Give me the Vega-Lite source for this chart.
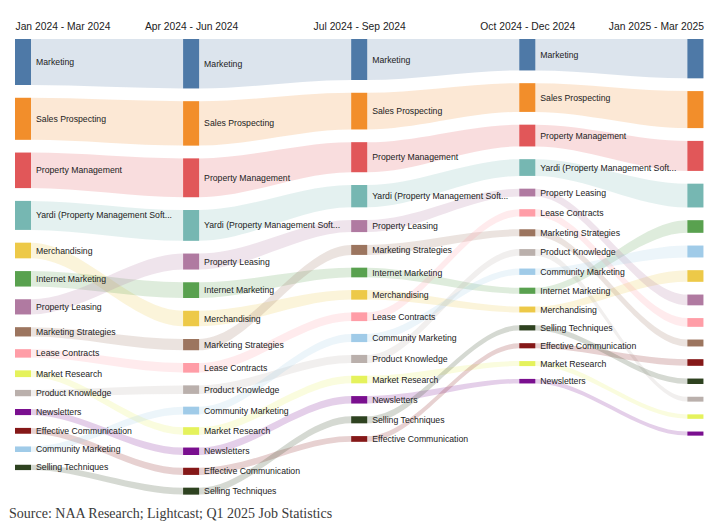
{
  "$schema": "https://vega.github.io/schema/vega-lite/v6.json",
  "width": 720,
  "height": 465,
  "autosize": {"type": "none"},
  "padding": {"top": 35, "bottom": 23, "left": 0, "right": 0},
  "background": "white",
  "title": {
    "text": "Source: NAA Research; Lightcast; Q1 2025 Job Statistics",
    "orient": "bottom",
    "anchor": "start",
    "frame": "group",
    "baseline": "alphabetic",
    "offset": 17.5,
    "dx": 9,
    "font": "Liberation Serif",
    "fontSize": 14,
    "fontWeight": "normal",
    "color": "#3a3a3a"
  },
  "config": {
    "view": {"stroke": null},
    "axisX": {
      "orient": "top",
      "values": [0, 1, 2, 3, 4],
      "labelExpr": "['Jan 2024 - Mar 2024','Apr 2024 - Jun 2024','Jul 2024 - Sep 2024','Oct 2024 - Dec 2024','Jan 2025 - Mar 2025'][datum.value]",
      "title": null,
      "domain": false,
      "ticks": false,
      "tickSize": 0,
      "grid": false,
      "labelPadding": 6,
      "labelBaseline": "alphabetic",
      "labelFlush": 30,
      "labelFlushOffset": 8,
      "labelOverlap": false,
      "labelFont": "Liberation Sans",
      "labelFontSize": 10.3,
      "labelColor": "#222222"
    }
  },
  "data": {
    "values": [
      {"q": 0, "quarter": "Jan 2024 - Mar 2024", "skill": "Marketing", "value": 46},
      {"q": 0, "quarter": "Jan 2024 - Mar 2024", "skill": "Sales Prospecting", "value": 42},
      {"q": 0, "quarter": "Jan 2024 - Mar 2024", "skill": "Property Management", "value": 35.5},
      {"q": 0, "quarter": "Jan 2024 - Mar 2024", "skill": "Yardi (Property Management Software)", "value": 29},
      {"q": 0, "quarter": "Jan 2024 - Mar 2024", "skill": "Merchandising", "value": 15.6},
      {"q": 0, "quarter": "Jan 2024 - Mar 2024", "skill": "Internet Marketing", "value": 15.4},
      {"q": 0, "quarter": "Jan 2024 - Mar 2024", "skill": "Property Leasing", "value": 15.1},
      {"q": 0, "quarter": "Jan 2024 - Mar 2024", "skill": "Marketing Strategies", "value": 9.2},
      {"q": 0, "quarter": "Jan 2024 - Mar 2024", "skill": "Lease Contracts", "value": 8.4},
      {"q": 0, "quarter": "Jan 2024 - Mar 2024", "skill": "Market Research", "value": 6.7},
      {"q": 0, "quarter": "Jan 2024 - Mar 2024", "skill": "Product Knowledge", "value": 6.3},
      {"q": 0, "quarter": "Jan 2024 - Mar 2024", "skill": "Newsletters", "value": 6.1},
      {"q": 0, "quarter": "Jan 2024 - Mar 2024", "skill": "Effective Communication", "value": 5.8},
      {"q": 0, "quarter": "Jan 2024 - Mar 2024", "skill": "Community Marketing", "value": 5.5},
      {"q": 0, "quarter": "Jan 2024 - Mar 2024", "skill": "Selling Techniques", "value": 5.3},

      {"q": 1, "quarter": "Apr 2024 - Jun 2024", "skill": "Marketing", "value": 49.4},
      {"q": 1, "quarter": "Apr 2024 - Jun 2024", "skill": "Sales Prospecting", "value": 44.4},
      {"q": 1, "quarter": "Apr 2024 - Jun 2024", "skill": "Property Management", "value": 38.8},
      {"q": 1, "quarter": "Apr 2024 - Jun 2024", "skill": "Yardi (Property Management Software)", "value": 30.8},
      {"q": 1, "quarter": "Apr 2024 - Jun 2024", "skill": "Property Leasing", "value": 15.9},
      {"q": 1, "quarter": "Apr 2024 - Jun 2024", "skill": "Internet Marketing", "value": 15.7},
      {"q": 1, "quarter": "Apr 2024 - Jun 2024", "skill": "Merchandising", "value": 15.4},
      {"q": 1, "quarter": "Apr 2024 - Jun 2024", "skill": "Marketing Strategies", "value": 11.2},
      {"q": 1, "quarter": "Apr 2024 - Jun 2024", "skill": "Lease Contracts", "value": 9.6},
      {"q": 1, "quarter": "Apr 2024 - Jun 2024", "skill": "Product Knowledge", "value": 8.5},
      {"q": 1, "quarter": "Apr 2024 - Jun 2024", "skill": "Community Marketing", "value": 7.7},
      {"q": 1, "quarter": "Apr 2024 - Jun 2024", "skill": "Market Research", "value": 7.6},
      {"q": 1, "quarter": "Apr 2024 - Jun 2024", "skill": "Newsletters", "value": 7.4},
      {"q": 1, "quarter": "Apr 2024 - Jun 2024", "skill": "Effective Communication", "value": 7.1},
      {"q": 1, "quarter": "Apr 2024 - Jun 2024", "skill": "Selling Techniques", "value": 6.9},

      {"q": 2, "quarter": "Jul 2024 - Sep 2024", "skill": "Marketing", "value": 41},
      {"q": 2, "quarter": "Jul 2024 - Sep 2024", "skill": "Sales Prospecting", "value": 36.6},
      {"q": 2, "quarter": "Jul 2024 - Sep 2024", "skill": "Property Management", "value": 30},
      {"q": 2, "quarter": "Jul 2024 - Sep 2024", "skill": "Yardi (Property Management Software)", "value": 22.3},
      {"q": 2, "quarter": "Jul 2024 - Sep 2024", "skill": "Property Leasing", "value": 12},
      {"q": 2, "quarter": "Jul 2024 - Sep 2024", "skill": "Marketing Strategies", "value": 10},
      {"q": 2, "quarter": "Jul 2024 - Sep 2024", "skill": "Internet Marketing", "value": 9.6},
      {"q": 2, "quarter": "Jul 2024 - Sep 2024", "skill": "Merchandising", "value": 9.5},
      {"q": 2, "quarter": "Jul 2024 - Sep 2024", "skill": "Lease Contracts", "value": 8.7},
      {"q": 2, "quarter": "Jul 2024 - Sep 2024", "skill": "Community Marketing", "value": 8.2},
      {"q": 2, "quarter": "Jul 2024 - Sep 2024", "skill": "Product Knowledge", "value": 8.1},
      {"q": 2, "quarter": "Jul 2024 - Sep 2024", "skill": "Market Research", "value": 7.5},
      {"q": 2, "quarter": "Jul 2024 - Sep 2024", "skill": "Newsletters", "value": 7.4},
      {"q": 2, "quarter": "Jul 2024 - Sep 2024", "skill": "Selling Techniques", "value": 7},
      {"q": 2, "quarter": "Jul 2024 - Sep 2024", "skill": "Effective Communication", "value": 5.7},

      {"q": 3, "quarter": "Oct 2024 - Dec 2024", "skill": "Marketing", "value": 31.4},
      {"q": 3, "quarter": "Oct 2024 - Dec 2024", "skill": "Sales Prospecting", "value": 28.7},
      {"q": 3, "quarter": "Oct 2024 - Dec 2024", "skill": "Property Management", "value": 21.7},
      {"q": 3, "quarter": "Oct 2024 - Dec 2024", "skill": "Yardi (Property Management Software)", "value": 16.7},
      {"q": 3, "quarter": "Oct 2024 - Dec 2024", "skill": "Property Leasing", "value": 7.7},
      {"q": 3, "quarter": "Oct 2024 - Dec 2024", "skill": "Lease Contracts", "value": 7.3},
      {"q": 3, "quarter": "Oct 2024 - Dec 2024", "skill": "Marketing Strategies", "value": 7.0},
      {"q": 3, "quarter": "Oct 2024 - Dec 2024", "skill": "Product Knowledge", "value": 6.7},
      {"q": 3, "quarter": "Oct 2024 - Dec 2024", "skill": "Community Marketing", "value": 6.3},
      {"q": 3, "quarter": "Oct 2024 - Dec 2024", "skill": "Internet Marketing", "value": 6.1},
      {"q": 3, "quarter": "Oct 2024 - Dec 2024", "skill": "Merchandising", "value": 5.8},
      {"q": 3, "quarter": "Oct 2024 - Dec 2024", "skill": "Selling Techniques", "value": 5.2},
      {"q": 3, "quarter": "Oct 2024 - Dec 2024", "skill": "Effective Communication", "value": 5.1},
      {"q": 3, "quarter": "Oct 2024 - Dec 2024", "skill": "Market Research", "value": 5.0},
      {"q": 3, "quarter": "Oct 2024 - Dec 2024", "skill": "Newsletters", "value": 4.5},

      {"q": 4, "quarter": "Jan 2025 - Mar 2025", "skill": "Marketing", "value": 39.3},
      {"q": 4, "quarter": "Jan 2025 - Mar 2025", "skill": "Sales Prospecting", "value": 37},
      {"q": 4, "quarter": "Jan 2025 - Mar 2025", "skill": "Property Management", "value": 30},
      {"q": 4, "quarter": "Jan 2025 - Mar 2025", "skill": "Yardi (Property Management Software)", "value": 23.7},
      {"q": 4, "quarter": "Jan 2025 - Mar 2025", "skill": "Internet Marketing", "value": 12.6},
      {"q": 4, "quarter": "Jan 2025 - Mar 2025", "skill": "Community Marketing", "value": 11.8},
      {"q": 4, "quarter": "Jan 2025 - Mar 2025", "skill": "Merchandising", "value": 11.6},
      {"q": 4, "quarter": "Jan 2025 - Mar 2025", "skill": "Property Leasing", "value": 10.7},
      {"q": 4, "quarter": "Jan 2025 - Mar 2025", "skill": "Lease Contracts", "value": 8.7},
      {"q": 4, "quarter": "Jan 2025 - Mar 2025", "skill": "Marketing Strategies", "value": 6.8},
      {"q": 4, "quarter": "Jan 2025 - Mar 2025", "skill": "Effective Communication", "value": 6.6},
      {"q": 4, "quarter": "Jan 2025 - Mar 2025", "skill": "Selling Techniques", "value": 5.4},
      {"q": 4, "quarter": "Jan 2025 - Mar 2025", "skill": "Product Knowledge", "value": 4.8},
      {"q": 4, "quarter": "Jan 2025 - Mar 2025", "skill": "Market Research", "value": 4.4},
      {"q": 4, "quarter": "Jan 2025 - Mar 2025", "skill": "Newsletters", "value": 4.0}
    ]
  },
  "transform": [
    {
      "window": [
        {"op": "sum", "field": "value", "as": "cum"},
        {"op": "row_number", "as": "rk"}
      ],
      "groupby": ["q"],
      "sort": [{"field": "value", "order": "descending"}],
      "frame": [null, 0]
    },
    {"calculate": "datum.cum + (datum.rk - 1) * 12.8", "as": "y1"},
    {"calculate": "datum.y1 - datum.value", "as": "y0"},
    {"calculate": "(datum.y0 + datum.y1) / 2", "as": "ym"}
  ],
  "layer": [
    {
      "transform": [
        {"calculate": "[datum.q - 0.0476, datum.q + 0.0476]", "as": "xs"},
        {"flatten": ["xs"]}
      ],
      "mark": {"type": "area", "interpolate": "monotone", "fillOpacity": 0.2, "strokeWidth": 0},
      "encoding": {
        "x": {
          "field": "xs", "type": "quantitative", "title": null,
          "scale": {"domain": [-0.13682, 4.14634], "nice": false, "zero": false, "padding": 0}
        },
        "y": {
          "field": "y0", "type": "quantitative",
          "scale": {"domain": [-4, 461], "nice": false, "zero": false, "reverse": true},
          "axis": null
        },
        "y2": {"field": "y1"},
        "color": {
          "field": "skill", "type": "nominal", "legend": null,
          "scale": {
            "domain": ["Marketing", "Sales Prospecting", "Property Management", "Yardi (Property Management Software)", "Internet Marketing", "Merchandising", "Property Leasing", "Lease Contracts", "Marketing Strategies", "Product Knowledge", "Community Marketing", "Market Research", "Newsletters", "Effective Communication", "Selling Techniques"],
            "range": ["#4e79a7", "#f28e2b", "#e15759", "#76b7b2", "#59a14f", "#edc948", "#b07aa1", "#ff9da7", "#9c755f", "#bab0ac", "#a0cbe8", "#e5f25c", "#7a0f8f", "#851818", "#2e4220"]
          }
        }
      }
    },
    {
      "mark": {"type": "bar", "width": 16},
      "encoding": {
        "x": {"field": "q", "type": "quantitative", "title": null, "scale": {"domain": [-0.13682, 4.14634], "nice": false, "zero": false, "padding": 0}},
        "y": {"field": "y0", "type": "quantitative", "axis": null},
        "y2": {"field": "y1"},
        "color": {"field": "skill", "type": "nominal", "legend": null}
      }
    },
    {
      "transform": [{"filter": "datum.q < 4"}],
      "mark": {
        "type": "text", "align": "left", "baseline": "middle", "dx": 13,
        "font": "Liberation Sans", "fontSize": 8.7, "color": "#222222",
        "limit": 138, "ellipsis": "..."
      },
      "encoding": {
        "x": {"field": "q", "type": "quantitative", "title": null},
        "y": {"field": "ym", "type": "quantitative", "axis": null},
        "text": {"field": "skill"}
      }
    }
  ]
}
